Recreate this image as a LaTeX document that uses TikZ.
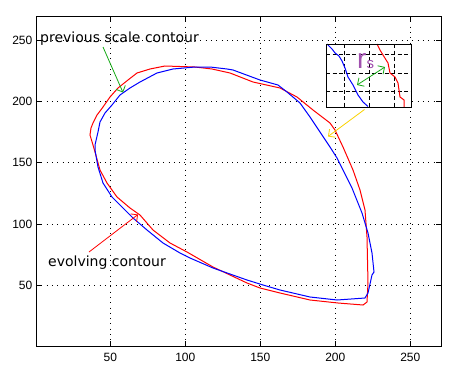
\documentclass[tikz,border=0pt]{standalone}
\usepackage{fontspec}
\setmainfont{Liberation Sans}
\newfontfamily\annfont{DejaVu Sans}
\usetikzlibrary{arrows.meta}
\definecolor{mgreen}{RGB}{20,170,20}
\definecolor{myellow}{RGB}{250,210,0}
\definecolor{mpurple}{RGB}{160,80,175}
\definecolor{mred}{RGB}{255,0,0}
\definecolor{mblue}{RGB}{0,0,255}
\tikzset{
  gridln/.style={line width=0.8pt, dash pattern=on 0.8pt off 4.5pt},
  frame/.style={line width=0.9pt},
  tick/.style={line width=0.8pt},
  ticklbl/.style={font=\fontsize{12}{12}\selectfont, inner sep=0pt},
  contr/.style={mred, line width=1pt, line join=miter},
  contb/.style={mblue, line width=1pt, line join=miter},
  annlbl/.style={font=\annfont\fontsize{14}{14}\selectfont, inner sep=0pt, anchor=base west},
  barb/.style={-{Straight Barb[length=5pt,width=10pt]}, line width=0.8pt},
  insetgrid/.style={line width=0.9pt, dash pattern=on 4pt off 2.5pt}
}
\begin{document}
\begin{tikzpicture}[x=1pt,y=-1pt]
\useasboundingbox (0,0) rectangle (450,372);
\fill[white] (0,0) rectangle (450,372);
% grid
\foreach \gx in {110.3,185.3,260.3,335.3,410.3}{
  \draw[gridln] (\gx,16) -- (\gx,346);
  \draw[tick] (\gx,346) -- (\gx,341);
  \draw[tick] (\gx,16) -- (\gx,21);
}
\foreach \gy in {40,101.3,162.7,224,285.3}{
  \draw[gridln] (36,\gy) -- (441,\gy);
  \draw[tick] (36,\gy) -- (41,\gy);
  \draw[tick] (441,\gy) -- (436,\gy);
}
\draw[frame] (36,16) rectangle (441,346);
% tick labels
\node[ticklbl, anchor=east] (y250) at (32.5,40) {250};
\node[ticklbl, anchor=east] (y200) at (32.5,101.3) {200};
\node[ticklbl, anchor=east] (y150) at (32.5,162.7) {150};
\node[ticklbl, anchor=east] (y100) at (32.5,224) {100};
\node[ticklbl, anchor=east] (y50) at (32.5,285.3) {50};
\node[ticklbl] (x50) at (110.3,357.5) {50};
\node[ticklbl] (x100) at (185.3,357.5) {100};
\node[ticklbl] (x150) at (260.3,357.5) {150};
\node[ticklbl] (x200) at (335.3,357.5) {200};
\node[ticklbl] (x250) at (410.3,357.5) {250};
% red contour
\draw[contr] (165,66) -- (195,67) -- (212,69) -- (230,73) -- (253,82) -- (280,88) -- (297,97) -- (313,110) -- (330,123) -- (335,130) -- (343,147) -- (353,170) -- (360,190) -- (365,210) -- (367,237) -- (368,283) -- (367,302) -- (363,305) -- (338,303) -- (310,300) -- (280,293) -- (260,288) -- (247,283) -- (213,267) -- (187,252) -- (170,243) -- (153,230) -- (140,215) -- (130,208) -- (117,197) -- (107,183) -- (100,170) -- (95,152) -- (93,145) -- (90,135) -- (91,128) -- (93,123) -- (97,115) -- (103,107) -- (110,97) -- (118,88) -- (128,80) -- (137,73) -- (150,69) -- cycle;
% blue contour
\draw[contb] (173,69) -- (195,67) -- (210,67) -- (227,69) -- (233,70) -- (260,80) -- (278,85) -- (287,92) -- (300,103) -- (310,117) -- (320,132) -- (330,147) -- (337,158) -- (343,170) -- (352,188) -- (362,213) -- (368,233) -- (372,253) -- (374,272) -- (372,275) -- (368,293) -- (365,298) -- (337,300) -- (310,297) -- (280,290) -- (263,285) -- (247,280) -- (213,268) -- (190,258) -- (180,253) -- (163,243) -- (147,230) -- (133,218) -- (123,208) -- (112,197) -- (103,183) -- (98,167) -- (95,150) -- (95,145) -- (98,132) -- (100,122) -- (105,113) -- (112,105) -- (120,95) -- (130,88) -- (140,82) -- (157,73) -- cycle;
% inset
\fill[white] (326,44) rectangle (411,107);
\draw[insetgrid] (344,44) -- (344,107);
\draw[insetgrid] (369,44) -- (369,107);
\draw[insetgrid] (394,44) -- (394,107);
\draw[insetgrid] (326,54) -- (411,54);
\draw[insetgrid] (326,73) -- (411,73);
\draw[insetgrid] (326,91.5) -- (411,91.5);
\draw[contb] (327,44) -- (332,49) -- (335,53) -- (339,56) -- (342,61) -- (345,68) -- (348,77) -- (353,85) -- (358,95) -- (363,102) -- (368,106.5);
\draw[contr] (377,44) -- (380,50) -- (383,55) -- (388,63) -- (390,73) -- (395,77) -- (398,83) -- (400,97) -- (404,100) -- (404,107);
\draw[frame] (326,44) rectangle (411,107);
\node[font=\fontsize{28}{28}\selectfont, text=mpurple, inner sep=0pt, anchor=base west] (rlbl) at (357,68) {r};
\node[font=\fontsize{15}{15}\selectfont, text=mpurple, inner sep=0pt, anchor=base west] (slbl) at (366.5,68) {s};
\coordinate (rs1) at (357,85);
\coordinate (rs2) at (385,67);
\draw[mgreen, {Straight Barb[length=5pt,width=10pt]}-{Straight Barb[length=5pt,width=10pt]}, line width=0.8pt] (rs1) -- (rs2);
% yellow arrow
\coordinate (ya1) at (364.5,109.5);
\coordinate (ya2) at (328,136.5);
\draw[myellow, barb] (ya1) -- (ya2);
% annotations
\node[annlbl] (prev) at (40,42) {previous scale contour};
\coordinate (ga1) at (103,47);
\coordinate (ga2) at (123,92.5);
\draw[mgreen, barb] (ga1) -- (ga2);
\node[annlbl] (evol) at (48,266.5) {evolving contour};
\coordinate (ra1) at (89,252);
\coordinate (ra2) at (138,214.5);
\draw[mred, barb] (ra1) -- (ra2);
\end{tikzpicture}
\end{document}
